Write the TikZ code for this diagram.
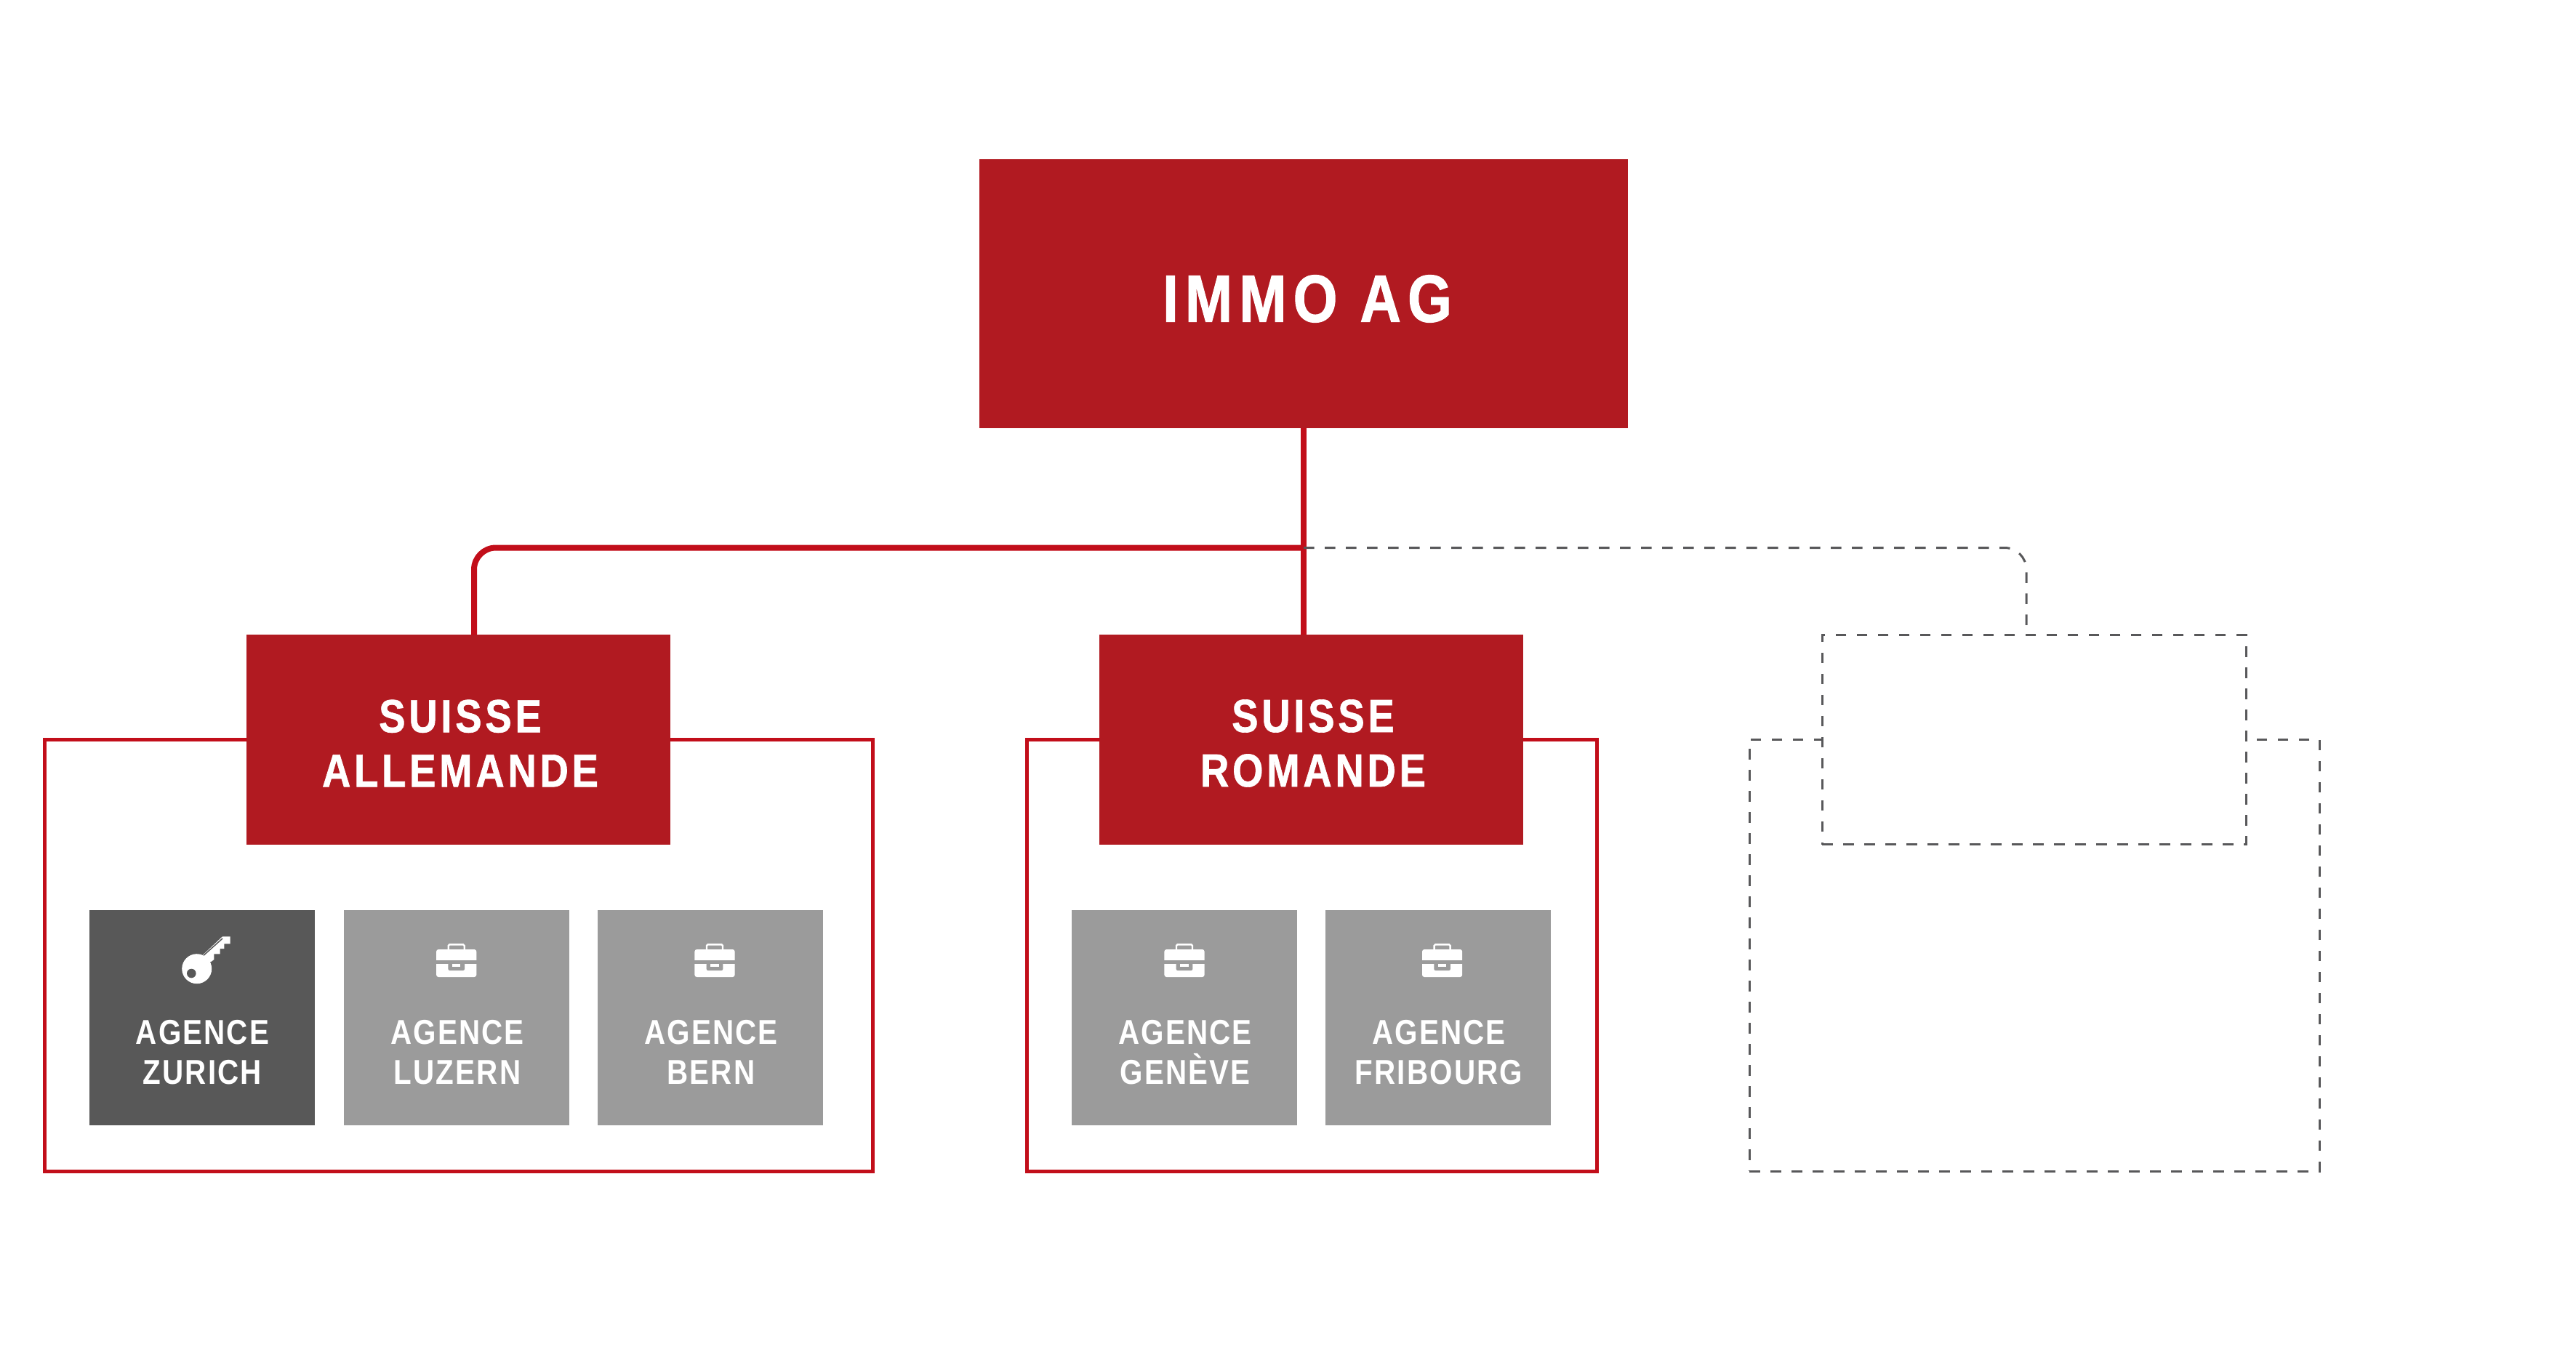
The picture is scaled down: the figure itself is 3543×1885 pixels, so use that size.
\documentclass[tikz,border=0pt]{standalone}
\usepackage{fontspec}
\setmainfont{Liberation Sans}
\newfontfamily\topfont[FakeStretch=0.85,LetterSpace=10,FakeBold=1.2]{Liberation Sans Bold}
\newfontfamily\headfont[FakeStretch=0.85,LetterSpace=7.5,FakeBold=1]{Liberation Sans Bold}
\newfontfamily\agfont[FakeStretch=0.85,LetterSpace=4.5]{Liberation Sans Bold}
\definecolor{boxred}{HTML}{B11A21}
\definecolor{linered}{HTML}{C20E1A}
\definecolor{agdark}{HTML}{585858}
\definecolor{aggrey}{HTML}{9B9B9B}
\definecolor{dashgrey}{HTML}{58585A}
\tikzset{
  x=1pt,y=-1pt,
  mainbox/.style={rectangle,fill=boxred,inner sep=0,outer sep=0,minimum width=892pt,minimum height=370pt},
  regbox/.style={rectangle,fill=boxred,inner sep=0,outer sep=0,minimum width=583pt,minimum height=288.4pt},
  dashbox/.style={rectangle,fill=white,draw=dashgrey,dashline,inner sep=0,outer sep=0,minimum width=583pt,minimum height=288.4pt},
  dashline/.style={line width=3pt,dash pattern=on 14.5pt off 14.5pt},
  agbox/.style={rectangle,inner sep=0,outer sep=0,minimum width=310pt,minimum height=296pt},
  container/.style={rectangle,draw=linered,line width=5pt,inner sep=0,outer sep=0,minimum height=594pt},
  conn/.style={draw=linered,line width=8pt},
  headtext/.style={text=white,inner sep=0,align=center},
  agtext/.style={text=white,inner sep=0,align=center,font=\agfont\fontsize{47.5}{55}\selectfont},
}
\newcommand{\briefcase}[2]{%
  \begin{scope}[shift={(#1,#2)}]
    \fill[white,rounded corners=3pt] (-27.6,-22) rectangle (27.6,16);
    \fill[aggrey] (-29,-7.3) rectangle (29,-2);
    \fill[aggrey,rounded corners=2pt] (-11.3,-3.5) -- (11.3,-3.5) -- (11.3,7) -- (-11.3,7) -- cycle;
    \fill[white] (-5.7,-2) rectangle (5.7,2);
    \draw[white,line width=2.4pt,rounded corners=1.5pt] (-11,-22) -- (-11,-28.6) -- (11,-28.6) -- (11,-22);
  \end{scope}}
\begin{document}
\begin{tikzpicture}
\useasboundingbox (0,0) rectangle (3543,1885);
% containers
\node[container,minimum width=1139pt] (c1) at (630.5,1314) {};
\node[container,minimum width=783.5pt] (c2) at (1804.4,1314) {};
\node[rectangle,draw=dashgrey,dashline,inner sep=0,minimum width=784pt,minimum height=594pt] (c3) at (2798,1314) {};
% main boxes
\node[mainbox] (top) at (1793,404) {};
\node[headtext,font=\topfont\fontsize{92}{92}\selectfont] (toplabel) at (1798,411) {IMMO AG};
\node[regbox] (alle) at (630.5,1017.5) {};
\node[headtext,font=\headfont\fontsize{64}{75}\selectfont] (allelabel) at (633,1022.5) {SUISSE\\ALLEMANDE};
\node[regbox] (rom) at (1803.5,1017.5) {};
\node[headtext,font=\headfont\fontsize{64}{75}\selectfont] (romlabel) at (1806,1022.5) {SUISSE\\ROMANDE};
\node[dashbox] (dbox) at (2797.5,1017.5) {};
% connectors
\coordinate (jn) at (1793,753.5);
\coordinate (alleport) at (652,873);
\coordinate (dport) at (2787,873);
\draw[conn] (top.south) -- (jn);
\draw[conn] (jn) -- (jn |- rom.north);
\draw[conn,rounded corners=30pt] (jn) -| (alleport);
\draw[dashgrey,dashline,rounded corners=30pt] (jn) -| (dport);
% agencies
\node[agbox,fill=agdark] (a1) at (277.5,1400) {};
\node[agbox,fill=aggrey] (a2) at (628,1400) {};
\node[agbox,fill=aggrey] (a3) at (977,1400) {};
\node[agbox,fill=aggrey] (a4) at (1629,1400) {};
\node[agbox,fill=aggrey] (a5) at (1978,1400) {};
\node[agtext] (t1) at (278.5,1447.5) {AGENCE\\ZURICH};
\node[agtext] (t2) at (629,1447.5) {AGENCE\\LUZERN};
\node[agtext] (t3) at (978,1447.5) {AGENCE\\BERN};
\node[agtext] (t4) at (1630,1447.5) {AGENCE\\GENÈVE};
\node[agtext] (t5) at (1979,1447.5) {AGENCE\\FRIBOURG};
% key
\fill[white] (279.3,1313.3) -- (306,1288.3) -- (316.7,1288.3) -- (316.7,1298.3) -- (308.3,1298.3) -- (308.3,1305) -- (302.7,1305) -- (302.7,1312.3) -- (294.3,1312.3) -- (294.3,1320) -- (290,1323.3) -- (275,1325) -- cycle;
\fill[white] (270.7,1332.7) circle[radius=20.5];
\fill[agdark] (263.3,1339) circle[radius=6.3];
\draw[agdark,line width=1.5pt] (280,1314.3) -- (306,1291);
\briefcase{627.7}{1328}
\briefcase{983}{1328}
\briefcase{1629}{1328}
\briefcase{1983.6}{1328}
\end{tikzpicture}
\end{document}
